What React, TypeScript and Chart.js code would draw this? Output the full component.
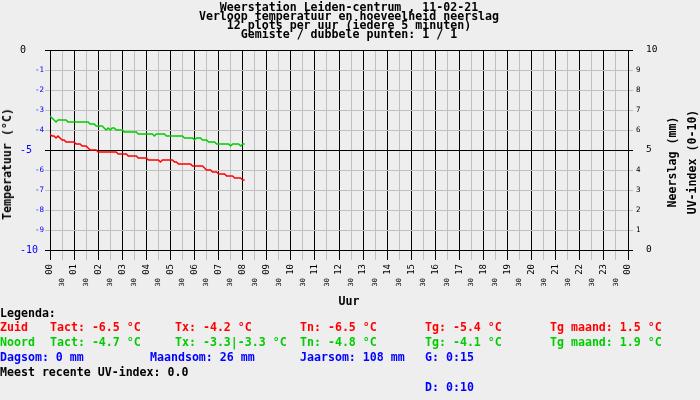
import { useEffect, useRef } from 'react'
import { Chart, registerables } from 'chart.js'

Chart.register(...registerables)

// temperatuur per 5 minuten vanaf 00:00 (°C)
const zuid = [
  -4.2, -4.3, -4.3, -4.4, -4.3, -4.4, -4.5, -4.5,
  -4.6, -4.6, -4.6, -4.6, -4.6, -4.7, -4.7, -4.7,
  -4.8, -4.8, -4.8, -4.9, -5.0, -5.0, -5.0, -5.0,
  -5.1, -5.1, -5.1, -5.1, -5.1, -5.1, -5.1, -5.1, -5.1, -5.1,
  -5.2, -5.2, -5.2, -5.2, -5.2, -5.3, -5.3, -5.3, -5.3, -5.3,
  -5.4, -5.4, -5.4, -5.4, -5.4, -5.5, -5.5, -5.5, -5.5, -5.5, -5.5,
  -5.6, -5.5, -5.5, -5.5, -5.5, -5.5, -5.5, -5.6, -5.6,
  -5.7, -5.7, -5.7, -5.7, -5.7, -5.7, -5.7,
  -5.8, -5.8, -5.8, -5.8, -5.8, -5.8, -5.9, -6.0, -6.0, -6.0,
  -6.1, -6.1, -6.1, -6.2, -6.2, -6.2, -6.2, -6.3, -6.3, -6.3, -6.3,
  -6.4, -6.4, -6.4, -6.4, -6.5, -6.5,
]

const noord = [
  -3.3, -3.4, -3.5, -3.6, -3.5, -3.5, -3.5, -3.5, -3.5,
  -3.6, -3.6, -3.6, -3.6, -3.6, -3.6, -3.6, -3.6, -3.6, -3.6, -3.6,
  -3.7, -3.7, -3.7, -3.8, -3.8, -3.8, -3.8,
  -3.9, -4.0, -3.9, -4.0, -3.9, -3.9, -4.0, -4.0, -4.0, -4.0,
  -4.1, -4.1, -4.1, -4.1, -4.1, -4.1, -4.1,
  -4.2, -4.2, -4.2, -4.2, -4.2, -4.2, -4.2, -4.2, -4.3,
  -4.2, -4.2, -4.2, -4.2, -4.2,
  -4.3, -4.3, -4.3, -4.3, -4.3, -4.3, -4.3, -4.3, -4.3,
  -4.4, -4.4, -4.4, -4.4, -4.4, -4.5, -4.4, -4.4, -4.4,
  -4.5, -4.5, -4.5, -4.6, -4.6, -4.6, -4.6,
  -4.7, -4.7, -4.7, -4.7, -4.7, -4.7, -4.7, -4.8,
  -4.7, -4.7, -4.7, -4.7, -4.8, -4.7, -4.7,
]

const titleLines = [
  'Weerstation Leiden-centrum , 11-02-21',
  'Verloop temperatuur en hoeveelheid neerslag',
  '12 plots per uur (iedere 5 minuten)',
  'Gemiste / dubbele punten: 1 / 1',
]

const zuidLegend = ['Zuid', 'Tact: -6.5 °C', 'Tx: -4.2 °C', 'Tn: -6.5 °C', 'Tg: -5.4 °C', 'Tg maand: 1.5 °C']
const noordLegend = ['Noord', 'Tact: -4.7 °C', 'Tx: -3.3|-3.3 °C', 'Tn: -4.8 °C', 'Tg: -4.1 °C', 'Tg maand: 1.9 °C']
const neerslagLegend = ['Dagsom: 0 mm', 'Maandsom: 26 mm', 'Jaarsom: 108 mm', 'G: 0:15']

const MONO = "'DejaVu Sans Mono', monospace"
const RED = '#ff0000'
const GREEN = '#00cc00'
const BLUE = '#0000ff'
const GREY = '#c0c0c0'

function Txt({ x, y, color = '#000', children, center = false, rotate = false }: any) {
  let transform = center ? 'translateX(-50%)' : undefined
  if (rotate) transform = 'translate(-50%, -50%) rotate(-90deg)'
  return (
    <div
      style={{
        position: 'absolute',
        left: x,
        top: rotate ? y : y - 6,
        lineHeight: '12px',
        fontFamily: MONO,
        fontWeight: 'bold',
        fontSize: 11.6,
        color,
        whiteSpace: 'pre',
        transform,
      }}
    >
      {children}
    </div>
  )
}

export default function App() {
  const canvasRef = useRef<HTMLCanvasElement>(null)

  useEffect(() => {
    if (!canvasRef.current) return
    const toPoints = (arr: number[]) => arr.map((t, i) => ({ x: (i * 5) / 60, y: t }))
    const isHour = (v: number) => Math.abs(v - Math.round(v)) < 1e-6
    const chart = new Chart(canvasRef.current, {
      type: 'line',
      data: {
        datasets: [
          { label: 'Zuid', data: toPoints(zuid), borderColor: RED, borderWidth: 1.5, pointRadius: 0, tension: 0, yAxisID: 'y', xAxisID: 'x' },
          { label: 'Noord', data: toPoints(noord), borderColor: GREEN, borderWidth: 1.5, pointRadius: 0, tension: 0, yAxisID: 'y', xAxisID: 'x' },
        ],
      },
      options: {
        animation: false,
        responsive: false,
        events: [],
        layout: { padding: { left: 0, right: 0, top: 50, bottom: 0 } },
        plugins: { legend: { display: false }, tooltip: { enabled: false } },
        scales: {
          x: {
            type: 'linear', position: 'bottom', min: 0, max: 24, weight: 0,
            ticks: {
              stepSize: 0.5, autoSkip: false, minRotation: 90, maxRotation: 90, padding: 4,
              color: '#000', font: { family: MONO, size: 9 },
              callback: (v: any) => (isHour(v) ? String(Math.round(v) % 24).padStart(2, '0') : ''),
            },
            grid: { color: (c: any) => (c.tick && isHour(c.tick.value) ? '#000' : GREY), tickLength: 10 },
            border: { display: true, color: '#000' },
            afterFit: (s: any) => { s.height = 27 },
          },
          xHalf: {
            type: 'linear', position: 'bottom', min: 0, max: 24, weight: 1,
            ticks: {
              stepSize: 0.5, autoSkip: false, minRotation: 90, maxRotation: 90, padding: 1,
              color: '#000', font: { family: MONO, size: 7 },
              callback: (v: any) => (isHour(v) ? '' : '30'),
            },
            grid: { display: false, drawTicks: false },
            border: { display: false },
            afterFit: (s: any) => { s.height = 123 },
          },
          y: {
            position: 'left', min: -10, max: 0, weight: 0,
            ticks: {
              stepSize: 1, padding: 1, color: BLUE, font: { family: MONO, size: 7.5 },
              callback: (v: any) => (v % 5 === 0 ? '' : String(v)),
            },
            grid: { color: (c: any) => (c.tick && c.tick.value % 5 === 0 ? '#000' : GREY), tickLength: 5 },
            border: { color: '#000' },
            afterFit: (s: any) => { s.width = 30 },
          },
          yBig: {
            position: 'left', min: -10, max: 0, weight: 1,
            ticks: {
              stepSize: 5, mirror: true, padding: 0, crossAlign: 'near', font: { family: MONO, size: 10 },
              color: (c: any) => (c.tick && c.tick.value === 0 ? '#000' : BLUE),
            },
            grid: { display: false, drawTicks: false },
            border: { display: false },
            afterFit: (s: any) => { s.width = 20 },
          },
          y1: {
            position: 'right', min: 0, max: 10, weight: 0,
            ticks: {
              stepSize: 1, padding: 3, color: '#000', font: { family: MONO, size: 7.5 },
              callback: (v: any) => (v % 5 === 0 ? '' : String(v)),
            },
            grid: { drawOnChartArea: false, color: (c: any) => (c.tick && c.tick.value % 5 === 0 ? '#000' : GREY), tickLength: 5 },
            border: { color: '#000' },
            afterFit: (s: any) => { s.width = 18 },
          },
          y1Big: {
            position: 'right', min: 0, max: 10, weight: 1,
            ticks: { stepSize: 5, padding: 0, color: '#000', font: { family: MONO, size: 9.5 } },
            grid: { display: false, drawTicks: false },
            border: { display: false },
            afterFit: (s: any) => { s.width = 54 },
          },
        },
      } as any,
    })
    return () => { chart.destroy() }
  }, [])

  const cols = [0, 50, 175, 300, 425, 550]
  const neerslagCols = [0, 150, 300, 425]
  const titleY = [6.7, 16, 25.3, 34.3]

  return (
    <div style={{ position: 'absolute', left: 0, top: 0, width: 700, height: 400, background: '#eeeeee', overflow: 'hidden' }}>
      <canvas ref={canvasRef} width={700} height={400} style={{ position: 'absolute', left: 0, top: 0 }} />
      {titleLines.map((t, i) => (
        <Txt key={t} x={349} y={titleY[i]} center>{t}</Txt>
      ))}
      <Txt x={7} y={164} rotate>Temperatuur (°C)</Txt>
      <Txt x={672} y={162} rotate>Neerslag (mm)</Txt>
      <Txt x={692} y={162} rotate>UV-index (0-10)</Txt>
      <Txt x={349} y={301} center>Uur</Txt>
      <Txt x={0} y={312.5}>Legenda:</Txt>
      {zuidLegend.map((t, i) => <Txt key={'z' + i} x={cols[i]} y={327} color={RED}>{t}</Txt>)}
      {noordLegend.map((t, i) => <Txt key={'n' + i} x={cols[i]} y={342} color={GREEN}>{t}</Txt>)}
      {neerslagLegend.map((t, i) => <Txt key={'r' + i} x={neerslagCols[i]} y={357} color={BLUE}>{t}</Txt>)}
      <Txt x={0} y={372}>Meest recente UV-index: 0.0</Txt>
      <Txt x={425} y={387} color={BLUE}>D: 0:10</Txt>
    </div>
  )
}
